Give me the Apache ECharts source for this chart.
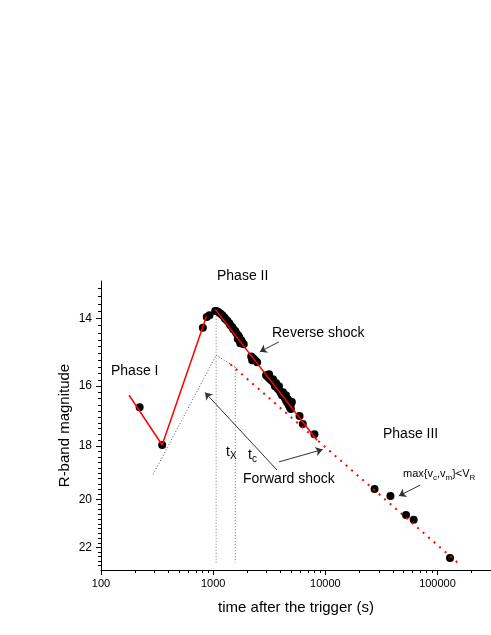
<!DOCTYPE html>
<html><head><meta charset="utf-8">
<script src="https://cdn.jsdelivr.net/npm/echarts@6/dist/echarts.min.js"></script>
<style>html,body{margin:0;padding:0;background:#fff}#c{width:491px;height:635px}</style>
</head><body><div id="c"></div>
<script>
// observed R-band points: time after trigger (s) and magnitude
const obsTime = [221, 351, 809, 877, 927, 1042, 1070, 1114, 1160, 1209, 1259, 1285, 1338, 1394, 1423, 1482, 1512, 1575, 1608, 1658, 1675, 1709, 1744, 1780, 1817, 1873, 2183, 2227, 2273, 2368, 2466, 2963, 3086, 3149, 3214, 3348, 3417, 3487, 3559, 3633, 3707, 3784, 3861, 3941, 4021, 4104, 4189, 4276, 4363, 4453, 4453, 4545, 4638, 4638, 4733, 4831, 4931, 4931, 5032, 5888, 6297, 7993, 27470, 38060, 52420, 61330, 129300];
const obsMag = [16.68, 17.97, 14.26, 13.96, 13.91, 13.79, 13.79, 13.82, 13.86, 13.91, 13.97, 14.01, 14.06, 14.13, 14.19, 14.24, 14.30, 14.35, 14.41, 14.58, 14.48, 14.53, 14.70, 14.61, 14.67, 14.73, 15.09, 15.20, 15.14, 15.20, 15.26, 15.66, 15.72, 15.63, 15.78, 15.84, 15.78, 15.90, 16.00, 15.90, 16.03, 16.09, 16.00, 16.16, 16.22, 16.29, 16.19, 16.32, 16.38, 16.45, 16.29, 16.51, 16.54, 16.42, 16.61, 16.68, 16.74, 16.58, 16.51, 16.97, 17.24, 17.59, 19.60, 19.87, 20.63, 20.83, 22.46];

// model segments
const phase1Time = [178, 351],   phase1Mag = [16.29, 17.97];
const riseTime = [351, 872],     riseMag = [17.97, 13.94];
const rsTime = [1042, 8430],     rsMag = [13.75, 17.80];
const fsTime = [1423, 161700],   fsMag = [15.32, 22.80];
const fsRiseTime = [292, 1063],  fsRiseMag = [19.04, 15.05];
const fsPeakTime = [1063, 1575], fsPeakMag = [15.05, 15.41];
const txTime = [1063, 1063],     txMag = [13.84, 22.67];
const tcTime = [1575, 1575],     tcMag = [15.41, 22.67];

// annotation arrows [fromTime, fromMag, toTime, toMag]
const arrowReverse = [3861, 14.66, 2606, 14.95];
const arrowForward1 = [3707, 18.88, 846, 16.20];
const arrowForward2 = [3861, 18.58, 9465, 18.13];
const arrowMax = [70150, 19.45, 45180, 19.87];

// axes
const xTickLabels = [100, 1000, 10000, 100000];
const yTickLabels = [14, 16, 18, 20, 22];
const xRange = [100, 300000];
const yRange = [13, 23];

const L = Math.log10;
const pts = (ts, ms) => ts.map((t, i) => [L(t), L(ms[i])]);
const xMinor = [];
[100, 1000, 10000, 100000].forEach(d => { for (let k = 2; k <= 9; k++) { if (k * d < xRange[1]) xMinor.push(L(k * d)); } });
const yMinor = [];
for (let i = 66; i <= 114; i++) { if (i % 10 !== 0) yMinor.push(L(i / 5)); }

const FONT = 'Liberation Sans, Arial, sans-serif';
const chart = echarts.init(document.getElementById('c'), null, {renderer: 'canvas'});

function seg(ts, ms, color, width, type, z) {
  return {type: 'line', xAxisIndex: 0, yAxisIndex: 0, data: pts(ts, ms), symbol: 'none', silent: true, z: z || 4,
    lineStyle: {color: color, width: width, type: type, opacity: 1}};
}
function arrow(a) {
  return {coords: [[L(a[0]), L(a[1])], [L(a[2]), L(a[3])]]};
}

chart.setOption({
  animation: false,
  backgroundColor: '#fff',
  grid: {left: 101, right: -4, top: 281, bottom: 65, containLabel: false},
  xAxis: [{
    type: 'value', min: L(xRange[0]), max: L(xRange[1]), position: 'bottom',
    axisLine: {show: true, lineStyle: {color: '#000', width: 1}},
    axisTick: {show: true, customValues: xTickLabels.map(L), length: 5, lineStyle: {color: '#000'}},
    axisLabel: {customValues: xTickLabels.map(L), formatter: v => String(Math.round(Math.pow(10, v))), fontSize: 11, color: '#000', fontFamily: FONT, margin: 8},
    splitLine: {show: false},
    name: 'time after the trigger (s)', nameLocation: 'middle', nameGap: 30, nameMoveOverlap: false,
    nameTextStyle: {fontSize: 15, color: '#000', fontFamily: FONT}
  }, {
    type: 'value', min: L(xRange[0]), max: L(xRange[1]), position: 'bottom',
    axisLine: {show: false}, axisLabel: {show: false}, splitLine: {show: false},
    axisTick: {show: true, customValues: xMinor, length: 3, lineStyle: {color: '#000'}}
  }],
  yAxis: [{
    type: 'value', inverse: true, min: L(yRange[0]), max: L(yRange[1]), position: 'left',
    axisLine: {show: true, lineStyle: {color: '#000', width: 1}},
    axisTick: {show: true, customValues: yTickLabels.map(L), length: 5, lineStyle: {color: '#000'}},
    axisLabel: {customValues: yTickLabels.map(L), formatter: v => String(Math.round(Math.pow(10, v))), fontSize: 12, color: '#000', fontFamily: FONT, margin: 9},
    splitLine: {show: false},
    name: 'R-band magnitude', nameLocation: 'middle', nameGap: 29, nameMoveOverlap: false,
    nameTextStyle: {fontSize: 15, color: '#000', fontFamily: FONT}
  }, {
    type: 'value', inverse: true, min: L(yRange[0]), max: L(yRange[1]), position: 'left',
    axisLine: {show: false}, axisLabel: {show: false}, splitLine: {show: false},
    axisTick: {show: true, customValues: yMinor, length: 3, lineStyle: {color: '#000'}}
  }],
  series: [
    {type: 'scatter', xAxisIndex: 0, yAxisIndex: 0, data: pts(obsTime, obsMag), symbolSize: 8, itemStyle: {color: '#000', opacity: 1}, z: 3},
    seg(fsRiseTime, fsRiseMag, '#555', 1, [1, 2], 2),
    seg(fsPeakTime, fsPeakMag, '#555', 1, [1, 2], 2),
    seg(txTime, txMag, '#777', 1, [1, 2], 2),
    seg(tcTime, tcMag, '#777', 1, [1, 2], 2),
    seg(fsTime, fsMag, '#ff0000', 2, [2, 5.3], 4),
    seg(phase1Time, phase1Mag, '#ff0000', 1.5, 'solid', 4),
    seg(riseTime, riseMag, '#ff0000', 1.5, 'solid', 4),
    seg(rsTime, rsMag, '#ff0000', 1.5, 'solid', 4),
    {type: 'lines', coordinateSystem: 'cartesian2d', xAxisIndex: 0, yAxisIndex: 0, silent: true, z: 5,
      symbol: ['none', 'arrow'], symbolSize: 7,
      lineStyle: {color: '#333', width: 1, curveness: 0, opacity: 1},
      data: [arrow(arrowReverse), arrow(arrowForward1), arrow(arrowForward2), arrow(arrowMax)]}
  ],
  graphic: [
    {type: 'text', x: 217, y: 276, style: {text: 'Phase II', font: '14px ' + FONT, fill: '#000', verticalAlign: 'middle'}},
    {type: 'text', x: 111, y: 371, style: {text: 'Phase I', font: '14px ' + FONT, fill: '#000', verticalAlign: 'middle'}},
    {type: 'text', x: 272, y: 333, style: {text: 'Reverse shock', font: '14px ' + FONT, fill: '#000', verticalAlign: 'middle'}},
    {type: 'text', x: 383, y: 434, style: {text: 'Phase III', font: '14px ' + FONT, fill: '#000', verticalAlign: 'middle'}},
    {type: 'text', x: 243, y: 479, style: {text: 'Forward shock', font: '14px ' + FONT, fill: '#000', verticalAlign: 'middle'}},
    {type: 'text', x: 226, y: 452, style: {text: '{a|t}{b|X}', verticalAlign: 'middle', fill: '#000',
      rich: {a: {fontSize: 14, fontFamily: FONT, fill: '#000'}, b: {fontSize: 10, fontFamily: FONT, fill: '#000', padding: [9, 0, 0, 0]}}}},
    {type: 'text', x: 248, y: 455, style: {text: '{a|t}{b|c}', verticalAlign: 'middle', fill: '#000',
      rich: {a: {fontSize: 14, fontFamily: FONT, fill: '#000'}, b: {fontSize: 10, fontFamily: FONT, fill: '#000', padding: [9, 0, 0, 0]}}}},
    {type: 'text', x: 403, y: 474, style: {text: '{a|max{v}{b|c}{a|,v}{b|m}}<V{b|R}', font: '11px ' + FONT, verticalAlign: 'middle', fill: '#000',
      rich: {a: {fontSize: 11, fontFamily: FONT, fill: '#000'}, b: {fontSize: 8, fontFamily: FONT, fill: '#000', padding: [7, 0, 0, 0]}}}}
  ]
});
</script></body></html>
